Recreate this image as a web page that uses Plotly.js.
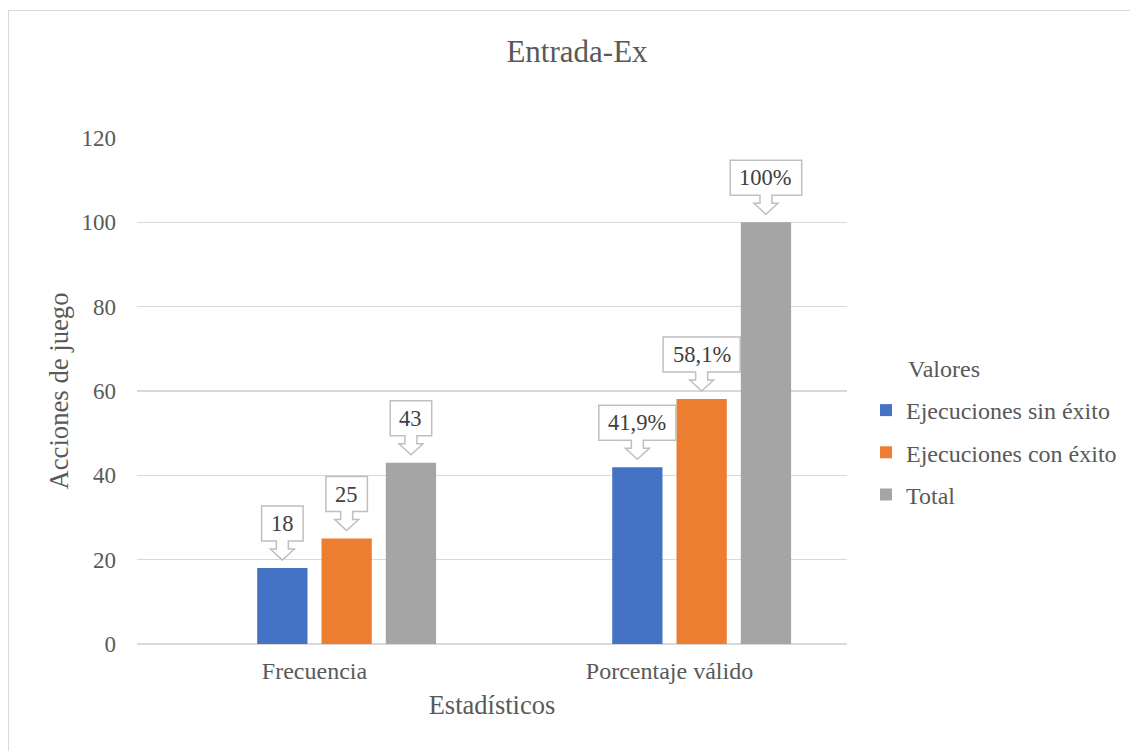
<!DOCTYPE html>
<html>
<head>
<meta charset="utf-8">
<script src="https://cdn.plot.ly/plotly-3.0.1.min.js"></script>
<style>
html,body{margin:0;padding:0;background:#fff;}
#wrap{position:relative;width:1130px;height:751px;overflow:hidden;}
#frame{position:absolute;left:8px;top:10px;width:1140px;height:760px;border:1.5px solid #D9D9D9;box-sizing:border-box;pointer-events:none;}
#chart{position:absolute;left:0;top:0;width:1130px;height:751px;}
</style>
</head>
<body>
<div id="wrap"><div id="chart"></div><div id="frame"></div></div>
<script>
const categories = ["Frecuencia", "Porcentaje válido"];
const seriesNames = ["Ejecuciones sin éxito", "Ejecuciones con éxito", "Total"];
const sinExito = [18, 41.9];
const conExito = [25, 58.1];
const total = [43, 100];
const labelsSin = ["18", "41,9%"];
const labelsCon = ["25", "58,1%"];
const labelsTotal = ["43", "100%"];
const yTicks = [0, 20, 40, 60, 80, 100, 120];

const colors = ["#4472C4", "#ED7D31", "#A5A5A5"];
const FONT = "'Liberation Serif', 'Times New Roman', serif";
const TXT = "#595959";
const seriesValues = [sinExito, conExito, total];
const seriesLabels = [labelsSin, labelsCon, labelsTotal];

const bargap = 0.2755;
const bargroupgap = 0.218;
const nSlots = 4; // first slot empty (hidden series in original)

const traces = [{
  type: "bar", x: categories, y: categories.map(() => null),
  name: "", showlegend: false, hoverinfo: "skip"
}];
seriesNames.forEach((n, i) => {
  traces.push({
    type: "bar", x: categories, y: seriesValues[i], name: n,
    marker: {color: colors[i]}, legendgroup: "g" + i
  });
});

const cv = document.createElement("canvas").getContext("2d");
cv.font = "22.5px 'Liberation Serif'";

const slot = (1 - bargap) / nSlots;
const shapes = [];
const annotations = [];
seriesValues.forEach((vals, s) => {
  const off = (s + 1 - (nSlots - 1) / 2) * slot;
  vals.forEach((v, c) => {
    const txt = seriesLabels[s][c];
    const w = cv.measureText(txt).width + 19;
    const h = w / 2;
    const path = `M0,8 L-12,19 L-6,19 L-6,27 L${-h},27 L${-h},62 L${h},62 L${h},27 L6,27 L6,19 L12,19 Z`;
    shapes.push({
      type: "path", xref: "x", yref: "y", xsizemode: "pixel", ysizemode: "pixel",
      xanchor: c + off, yanchor: v, path: path,
      fillcolor: "#FFFFFF", line: {color: "#BFBFBF", width: 1.5}
    });
    annotations.push({
      xref: "x", yref: "y", x: c + off, y: v, yshift: 44.5, showarrow: false,
      text: txt, font: {family: FONT, size: 22.5, color: "#404040"},
      xanchor: "center", yanchor: "middle"
    });
  });
});
annotations.push({
  xref: "paper", yref: "paper", x: (906 - 137) / 710, y: (644 - 369) / 506,
  xanchor: "left", yanchor: "middle", showarrow: false, text: "Valores",
  font: {family: FONT, size: 24, color: TXT}
});

const layout = {
  width: 1130, height: 751,
  margin: {l: 137, r: 283, t: 138, b: 107, autoexpand: false},
  paper_bgcolor: "#FFFFFF", plot_bgcolor: "#FFFFFF",
  barmode: "group", bargap: bargap, bargroupgap: bargroupgap,
  font: {family: FONT, color: TXT, size: 23},
  title: {text: "Entrada-Ex", font: {family: FONT, size: 31, color: TXT},
          x: 577 / 1130, xanchor: "center", xref: "container",
          y: 1 - 51 / 751, yanchor: "middle", yref: "container"},
  xaxis: {
    type: "category", showgrid: false, zeroline: false, showline: false,
    ticks: "", ticklabelstandoff: 10, automargin: false,
    tickfont: {family: FONT, size: 24, color: TXT},
    title: {text: "Estadísticos", font: {family: FONT, size: 26.5, color: TXT}, standoff: 12}
  },
  yaxis: {
    range: [0, 120], tickvals: yTicks, ticktext: yTicks.map(String),
    showgrid: true, gridcolor: "#D9D9D9", gridwidth: 1.3,
    zeroline: true, zerolinecolor: "#D9D9D9", zerolinewidth: 1.5,
    showline: false, ticks: "", ticklabelstandoff: 20, automargin: false,
    tickfont: {family: FONT, size: 23, color: TXT},
    title: {text: "Acciones de juego", font: {family: FONT, size: 26.7, color: TXT}, standoff: 5}
  },
  showlegend: true,
  legend: {
    x: (866 - 137) / 710, xanchor: "left", y: (644 - 388) / 506, yanchor: "top",
    traceorder: "grouped", tracegroupgap: 8,
    font: {family: FONT, size: 24, color: TXT},
    itemclick: false, itemdoubleclick: false
  },
  shapes: shapes,
  annotations: annotations
};

Plotly.newPlot("chart", traces, layout, {displayModeBar: false, staticPlot: true});
</script>
</body>
</html>
